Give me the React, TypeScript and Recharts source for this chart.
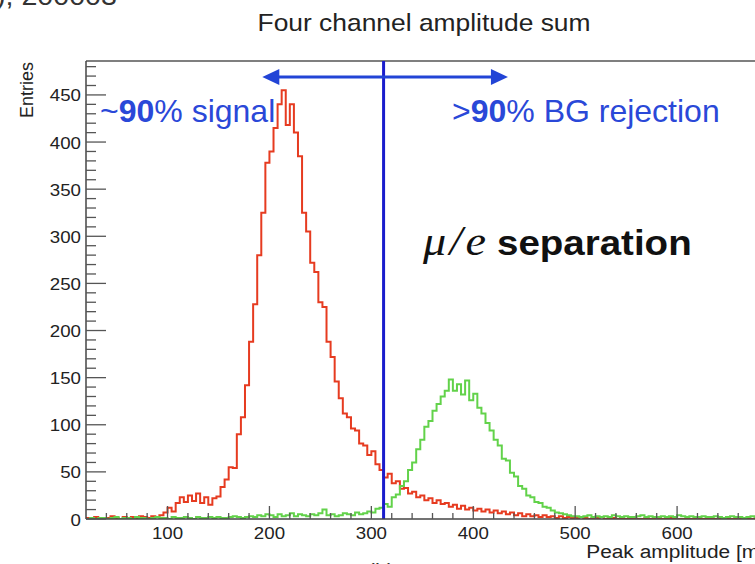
import { LineChart, Line, XAxis, YAxis, ReferenceLine } from 'recharts';

// histogram binning: 4 mV bins starting at 20 mV
const BIN_START = 20;
const BIN_WIDTH = 4;

// muon sample (red), entries per bin
const muonCounts = [
  1, 0, 2, 1, 0, 1, 3, 1, 0, 2, // 20-56
  1, 2, 0, 3, 2, 1, 3, 2, 4, 7, // 60-96
  12, 8, 17, 23, 18, 25, 19, 27, 17, 23, // 100-136
  15, 22, 24, 34, 42, 55, 54, 90, 108, 142, // 140-176
  188, 228, 280, 325, 378, 390, 415, 440, 455, 418, // 180-216
  440, 410, 385, 325, 305, 272, 262, 230, 225, 188, // 220-256
  172, 146, 128, 112, 108, 96, 94, 80, 78, 68, // 260-296
  72, 58, 52, 44, 48, 38, 40, 32, 33, 27, // 300-336
  29, 23, 25, 20, 22, 17, 20, 16, 17, 13, // 340-376
  15, 11, 14, 10, 12, 9, 11, 8, 10, 7, // 380-416
  9, 6, 8, 5, 7, 4, 6, 3, 5, 3, // 420-456
  4, 2, 4, 2, 3, 1, 3, 1, 2, 1, // 460-496
  1, 2, 1, 0, 1, 1, 2, 0, 1, 1, // 500-536
  0, 1, 0, 1, 1, 0, 0, 1, 0, 0, // 540-576
  1, 0, 0, 1, 0, 0, 0, 0, 0, 0, // 580-616
  0, 0, 0, 0, 0, 0, 0, 0, 0, 0, // 620-656
  0, 0, 0, 0, 0, 0, 0, 0, 0, 0, // 660-696
];

// electron sample (green), entries per bin
const electronCounts = [
  0, 1, 0, 1, 1, 0, 1, 2, 0, 1, // 20-56
  1, 0, 2, 1, 1, 0, 1, 2, 1, 1, // 60-96
  0, 2, 1, 1, 2, 1, 0, 2, 1, 1, // 100-136
  2, 1, 2, 1, 1, 2, 3, 2, 1, 2, // 140-176
  3, 2, 4, 3, 5, 4, 2, 5, 3, 4, // 180-216
  6, 3, 5, 4, 3, 5, 4, 6, 10, 4, // 220-256
  5, 3, 4, 6, 5, 4, 7, 5, 6, 8, // 260-296
  7, 11, 12, 16, 13, 23, 26, 35, 40, 52, // 300-336
  60, 74, 84, 98, 104, 115, 122, 130, 136, 148, // 340-376
  136, 143, 132, 147, 126, 133, 118, 112, 102, 94, // 380-416
  84, 78, 64, 62, 49, 45, 35, 32, 25, 23, // 420-456
  18, 17, 13, 12, 9, 7, 6, 5, 4, 3, // 460-496
  3, 2, 3, 4, 2, 3, 2, 3, 2, 4, // 500-536
  3, 2, 3, 2, 2, 3, 4, 2, 3, 2, // 540-576
  2, 3, 2, 3, 2, 4, 3, 2, 3, 2, // 580-616
  2, 3, 2, 2, 3, 2, 1, 2, 3, 2, // 620-656
  2, 1, 2, 3, 2, 1, 2, 2, 1, 2, // 660-696
];

const xTicks = [
  40, 60, 80, 100, 120, 140, 160, 180, 200, 220, 240, 260, 280, 300, 320, 340, 360,
  380, 400, 420, 440, 460, 480, 500, 520, 540, 560, 580, 600, 620, 640, 660, 680,
];
const yTicks = [
  0, 10, 20, 30, 40, 50, 60, 70, 80, 90, 100, 110, 120, 130, 140, 150, 160, 170, 180,
  190, 200, 210, 220, 230, 240, 250, 260, 270, 280, 290, 300, 310, 320, 330, 340, 350,
  360, 370, 380, 390, 400, 410, 420, 430, 440, 450, 460, 470, 480,
];

const CUT_VALUE = 312; // mV, the mu/e cut
const ARROW_FROM = 193;
const ARROW_TO = 434;
const ARROW_LEVEL = 469;
const Y_MAX = 486;

const histData = muonCounts.map((m, i) => ({
  x: BIN_START + i * BIN_WIDTH,
  mu: m,
  e: electronCounts[i],
}));

const SANS = '"Liberation Sans", Arial, Helvetica, sans-serif';
const SERIF = '"Liberation Serif", "DejaVu Serif", serif';
const TICK_GAP = 6;
const STRETCH = 1.1; // the slide image is a bit wider than tall

// text slightly stretched horizontally, like the screenshot
const Txt = ({ x, y, anchor = 'start', size, sx = STRETCH, children, ...rest }: any) => (
  <text
    transform={`translate(${x},${y}) scale(${sx},1)`}
    textAnchor={anchor}
    fontSize={size}
    fontFamily={SANS}
    fill="#222"
    {...rest}
  >
    {children}
  </text>
);

const YTick = (props: any) => {
  const { x, y, payload } = props;
  const axisX = x + TICK_GAP;
  const major = payload.value % 50 === 0;
  return (
    <g>
      <line x1={axisX} x2={axisX + (major ? 20 : 10)} y1={y} y2={y} stroke="#555" strokeWidth={1.3} />
      {major && (
        <Txt x={axisX - 5} y={y + 6.5} anchor="end" size={17}>
          {payload.value}
        </Txt>
      )}
    </g>
  );
};

const XTick = (props: any) => {
  const { x, y, payload } = props;
  const axisY = y - TICK_GAP;
  const major = payload.value % 100 === 0;
  return (
    <g>
      <line x1={x} x2={x} y1={axisY} y2={axisY - (major ? 13 : 6)} stroke="#555" strokeWidth={1.3} />
      {major && (
        <Txt x={x} y={axisY + 20} anchor="middle" size={17}>
          {payload.value}
        </Txt>
      )}
    </g>
  );
};

// double headed arrow drawn over the reference segment
const Arrow = (props: any) => {
  const { x1, y1, x2, stroke } = props;
  const head = 17;
  return (
    <g>
      <line x1={x1 + head - 2} x2={x2 - head + 2} y1={y1} y2={y1} stroke={stroke} strokeWidth={3} />
      <polygon points={`${x1},${y1} ${x1 + head},${y1 - 8} ${x1 + head},${y1 + 8}`} fill={stroke} />
      <polygon points={`${x2},${y1} ${x2 - head},${y1 - 8} ${x2 - head},${y1 + 8}`} fill={stroke} />
    </g>
  );
};

export default function App() {
  return (
    <div style={{ position: 'absolute', left: 0, top: 0, width: 755, height: 564, overflow: 'hidden', background: '#fff' }}>
      <LineChart width={800} height={564} data={histData} margin={{ top: 61, right: 21, bottom: 15, left: 26 }}>
        <XAxis
          dataKey="x"
          type="number"
          domain={[20, 700]}
          ticks={xTicks}
          interval={0}
          height={30}
          tickSize={0}
          tickMargin={TICK_GAP}
          tick={<XTick />}
          axisLine={{ stroke: '#444', strokeWidth: 1.5 }}
          allowDataOverflow
        />
        <YAxis
          type="number"
          domain={[0, Y_MAX]}
          ticks={yTicks}
          interval={0}
          width={60}
          tickSize={0}
          tickMargin={TICK_GAP}
          tick={<YTick />}
          axisLine={{ stroke: '#444', strokeWidth: 1.5 }}
          allowDataOverflow
        />
        <ReferenceLine y={Y_MAX} stroke="#555" strokeWidth={1.5} />
        <Line dataKey="mu" type="stepAfter" stroke="#e63b20" strokeWidth={2} dot={false} isAnimationActive={false} />
        <Line dataKey="e" type="stepAfter" stroke="#62d24a" strokeWidth={2} dot={false} isAnimationActive={false} />
        <ReferenceLine x={CUT_VALUE} stroke="#1a1ccc" strokeWidth={3} />
        <ReferenceLine
          segment={[{ x: ARROW_FROM, y: ARROW_LEVEL }, { x: ARROW_TO, y: ARROW_LEVEL }]}
          stroke="#2244d6"
          shape={<Arrow />}
        />
      </LineChart>
      <svg width={755} height={564} style={{ position: 'absolute', left: 0, top: 0, pointerEvents: 'none' }}>
        <Txt x={-4} y={5} size={26} fill="#333">), 200003</Txt>
        <Txt x={424} y={31} anchor="middle" size={24}>Four channel amplitude sum</Txt>
        <text transform="translate(33,62) rotate(-90)" textAnchor="end" fontSize={18} fill="#222" fontFamily={SANS}>
          Entries
        </text>
        <Txt x={779} y={557.5} anchor="end" size={19}>Peak amplitude [mV]</Txt>
        <Txt x={100} y={122} size={32} sx={1} fill="#2a48d8">
          ~<tspan fontWeight="bold">90</tspan>% signal
        </Txt>
        <Txt x={452} y={122} size={32} sx={1} fill="#2a48d8">
          &gt;<tspan fontWeight="bold">90</tspan>% BG rejection
        </Txt>
        <Txt x={423} y={255} size={42} fill="#111" fontFamily={SERIF} fontStyle="italic" letterSpacing={3}>
          μ/e
        </Txt>
        <Txt x={497} y={255} size={35} fill="#111" fontWeight="bold">separation</Txt>
        <Txt x={381} y={578} anchor="middle" size={20} fill="#333">(b)</Txt>
      </svg>
    </div>
  );
}
